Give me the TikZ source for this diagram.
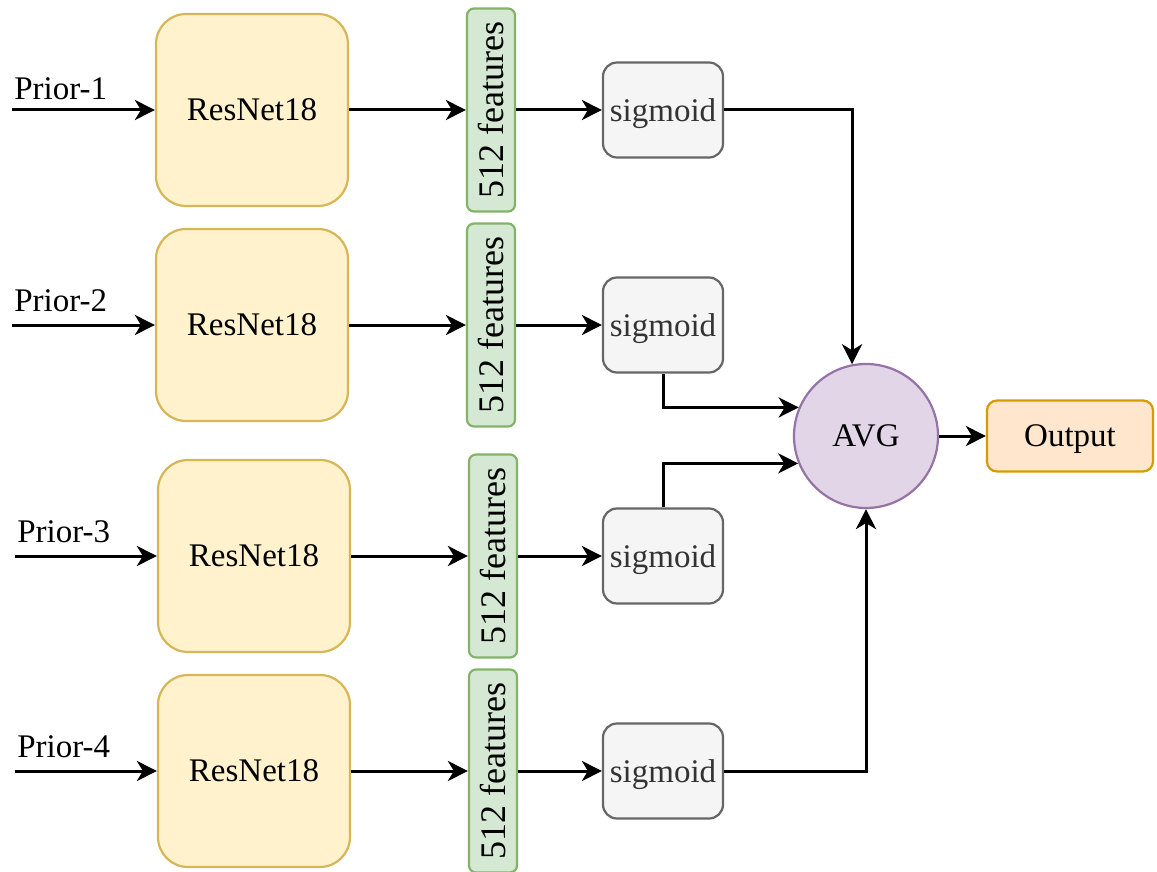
\documentclass[tikz,border=0pt]{standalone}
\usepackage{fontspec}
\setmainfont{Liberation Serif}
\usetikzlibrary{arrows.meta,calc}
\definecolor{resfill}{HTML}{FFF2CC}
\definecolor{resdraw}{HTML}{D6B656}
\definecolor{featfill}{HTML}{D5E8D4}
\definecolor{featdraw}{HTML}{82B366}
\definecolor{sigfill}{HTML}{F5F5F5}
\definecolor{sigdraw}{HTML}{666666}
\definecolor{sigtext}{HTML}{333333}
\definecolor{avgfill}{HTML}{E1D5E7}
\definecolor{avgdraw}{HTML}{9673A6}
\definecolor{outfill}{HTML}{FFE6CC}
\definecolor{outdraw}{HTML}{D79B00}
\tikzset{
  txt/.style={font=\fontsize{16.5}{19}\selectfont},
  resbox/.style={txt, draw=resdraw, fill=resfill, line width=1.1pt, rounded corners=15pt,
    minimum width=96pt, minimum height=96pt, inner sep=0pt},
  featbox/.style={draw=featdraw, fill=featfill, line width=1.1pt, rounded corners=3.5pt,
    minimum width=101.5pt, minimum height=24pt, inner sep=0pt, rotate=90,
    font=\fontsize{18}{20}\selectfont},
  sigbox/.style={txt, draw=sigdraw, fill=sigfill, text=sigtext, line width=1.1pt, rounded corners=7pt,
    minimum width=60pt, minimum height=47.5pt, inner sep=0pt, text depth=0pt},
  avgnode/.style={txt, circle, draw=avgdraw, fill=avgfill, line width=1.1pt,
    minimum size=72pt, inner sep=0pt},
  outbox/.style={txt, draw=outdraw, fill=outfill, line width=1.1pt, rounded corners=5pt,
    minimum width=83pt, minimum height=35.5pt, inner sep=0pt, text depth=0pt},
  lbl/.style={txt, anchor=west, inner sep=0pt},
  conn/.style={line width=1.5pt, -{Stealth[length=10pt,width=10pt,inset=3pt]}},
}
\begin{document}
\begin{tikzpicture}[x=0.5pt,y=-0.5pt]
\useasboundingbox (0,0) rectangle (1157,872);

% input labels and coordinates
\node[lbl] (p1) at (14,89) {Prior-1};
\node[lbl] (p2) at (14,301) {Prior-2};
\node[lbl] (p3) at (17,532) {Prior-3};
\node[lbl] (p4) at (17,747) {Prior-4};
\coordinate (i1) at (12,110);
\coordinate (i2) at (12,325);
\coordinate (i3) at (15,556);
\coordinate (i4) at (15,771);

% ResNet blocks
\node[resbox] (r1) at (252,110) {ResNet18};
\node[resbox] (r2) at (252,325) {ResNet18};
\node[resbox] (r3) at (254,556) {ResNet18};
\node[resbox] (r4) at (254,771) {ResNet18};

% feature bars
\node[featbox] (f1) at (491,110) {512 features};
\node[featbox] (f2) at (491,325) {512 features};
\node[featbox] (f3) at (493,556) {512 features};
\node[featbox] (f4) at (493,771) {512 features};

% sigmoid boxes
\node[sigbox] (s1) at (663,110) {sigmoid};
\node[sigbox] (s2) at (663,325) {sigmoid};
\node[sigbox] (s3) at (663,556) {sigmoid};
\node[sigbox] (s4) at (663,771) {sigmoid};

% AVG and output
\node[avgnode] (avg) at (866,436) {AVG};
\node[outbox] (out) at (1070,436) {Output};

% connectors
\foreach \k in {1,2,3,4}{
  \draw[conn] (i\k) -- (r\k.west);
  \draw[conn] (r\k.east) -- (f\k.north);
  \draw[conn] (f\k.south) -- (s\k.west);
}
\draw[conn] (s1.east) -| (avg.101);
\draw[conn] (s2.south) |- (avg.157);
\draw[conn] (s3.north) |- (avg.202);
\draw[conn] (s4.east) -| (avg.south);
\draw[conn] (avg.east) -- (out.west);
\end{tikzpicture}
\end{document}
